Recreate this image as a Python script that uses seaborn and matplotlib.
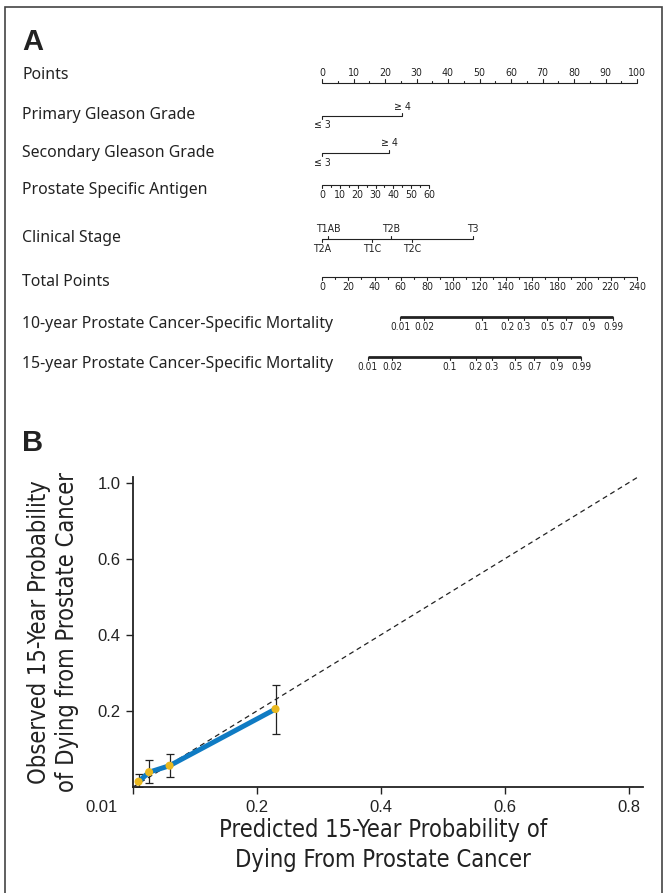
import numpy as np
import matplotlib
matplotlib.use("Agg")
import matplotlib.pyplot as plt
import matplotlib.transforms as mtransforms
from matplotlib import font_manager
from matplotlib.patches import Rectangle
import seaborn as sns

# ---------------- panel A: nomogram values (in "points", 0-100) ----------------
points_ticks = np.arange(0, 101, 10)
gleason_labels = ["≤ 3", "≥ 4"]
primary_points = [0, 25.5]
secondary_points = [0, 21.3]
psa_values = np.arange(0, 61, 10)
psa_points_at_60 = 34.0
stage_labels = ["T2A", "T1AB", "T1C", "T2B", "T2C", "T3"]
stage_points = [0, 2, 16, 22, 28.5, 48]
stage_above = [False, True, False, True, False, True]
total_ticks = np.arange(0, 241, 20)
total_max = 240
risk_ticks = [0.01, 0.02, 0.1, 0.2, 0.3, 0.5, 0.7, 0.9, 0.99]
risk_labels = ["0.01", "0.02", "0.1", "0.2", "0.3", "0.5", "0.7", "0.9", "0.99"]
risk10_total_at = [59.4, 221.7]   # total points where risk = 0.01 / 0.99
risk15_total_at = [35.0, 197.3]
row_names = ["Points", "Primary Gleason Grade", "Secondary Gleason Grade",
             "Prostate Specific Antigen", "Clinical Stage", "Total Points",
             "10-year Prostate Cancer-Specific Mortality",
             "15-year Prostate Cancer-Specific Mortality"]

# ---------------- panel B: calibration values ----------------
predicted = np.array([0.009, 0.026, 0.059, 0.230])
observed = np.array([0.014, 0.039, 0.056, 0.205])
observed_lo = np.array([0.0, 0.010, 0.026, 0.139])
observed_hi = np.array([0.034, 0.072, 0.086, 0.268])
x_tick_vals = [0.0, 0.2, 0.4, 0.6, 0.8]
x_tick_labels = ["0.01", "0.2", "0.4", "0.6", "0.8"]
y_tick_vals = [0.2, 0.4, 0.6, 0.8]
y_tick_labels = ["0.2", "0.4", "0.6", "1.0"]

BLUE = "#0f7bc3"
GOLD = "#e9b81f"
INK = "#222222"

sns.set_theme(style="ticks")
plt.rcParams["font.family"] = ["Liberation Sans", "DejaVu Sans"]

names = {f.name for f in font_manager.fontManager.ttflist}
if "Liberation Sans Narrow" in names:
    COND = dict(family="Liberation Sans Narrow")
elif "DejaVu Sans Condensed" in names:
    COND = dict(family="DejaVu Sans Condensed")
else:
    COND = dict(family="DejaVu Sans", stretch="condensed")
LABEL = dict(family=["Noto Sans", "DejaVu Sans"])

W, H = 663, 893
fig = plt.figure(figsize=(W / 100, H / 100), dpi=100)
fig.patches.append(Rectangle((5 / W, -0.01), 657 / W, 1.01 - 7 / H, transform=fig.transFigure,
                             fill=False, edgecolor="#444444", linewidth=1.2))

# ======================= panel A =======================
ax = fig.add_axes([322 / W, 1 - 380 / H, 315 / W, 320 / H])
ax.set_xlim(0, 100)
ax.set_ylim(380, 60)
ax.axis("off")

lab_tr = mtransforms.blended_transform_factory(fig.transFigure, ax.transData)
row_label_y = [75, 115, 153, 190, 238, 282, 324, 364]
for name, yy in zip(row_names, row_label_y):
    ax.text(22 / W, yy, name, transform=lab_tr, ha="left", va="center", fontsize=11.4,
            color=INK, **LABEL)
fig.text(22 / W, 1 - 50 / H, "A", fontsize=21, fontweight="bold", color=INK)


def scale_row(y, xs, labels, above, minor=None, lw=0.8, tick=4.0, fs=7.6):
    xs = np.asarray(xs, dtype=float)
    ax.plot([xs.min(), xs.max()], [y, y], color=INK, lw=lw, solid_capstyle="butt", clip_on=False)
    if np.isscalar(above):
        above = [above] * len(xs)
    for xv, lab, up in zip(xs, labels, above):
        d = -1 if up else 1
        ax.plot([xv, xv], [y, y + d * tick], color=INK, lw=0.8, clip_on=False)
        ax.text(xv, y + d * (tick + 1.5), lab, ha="center", va="bottom" if up else "top",
                fontsize=fs, color=INK, clip_on=False, **COND)
    if minor is not None:
        for xv in minor:
            d = -1 if above[0] else 1
            ax.plot([xv, xv], [y, y + d * tick * 0.5], color=INK, lw=0.8, clip_on=False)


# points
scale_row(83, points_ticks, [str(v) for v in points_ticks], True, minor=points_ticks[:-1] + 5)
# Gleason grades
scale_row(116, primary_points, gleason_labels, [False, True], tick=3)
scale_row(153, secondary_points, gleason_labels, [False, True], tick=3)
# PSA
psa_x = psa_values / psa_values.max() * psa_points_at_60
scale_row(185, psa_x, [str(v) for v in psa_values], False, minor=psa_x[:-1] + psa_x[1] / 2, tick=3)
# clinical stage
scale_row(239, stage_points, stage_labels, stage_above, tick=3)
# total points
tot_x = total_ticks / total_max * 100
scale_row(277, tot_x, [str(v) for v in total_ticks], False, minor=tot_x[:-1] + tot_x[1] / 2, tick=3)


def cloglog(p):
    return np.log(-np.log(1 - np.asarray(p)))


def risk_x(anchor):
    c = cloglog(risk_ticks)
    c0, c1 = cloglog([0.01, 0.99])
    tot = anchor[0] + (c - c0) / (c1 - c0) * (anchor[1] - anchor[0])
    return tot / total_max * 100


scale_row(317, risk_x(risk10_total_at), risk_labels, False, lw=2.0, tick=3, fs=7.2)
scale_row(357, risk_x(risk15_total_at), risk_labels, False, lw=2.0, tick=3, fs=7.2)

# ======================= panel B =======================
fig.text(22 / W, 1 - 451 / H, "B", fontsize=21, fontweight="bold", color=INK)
axb = fig.add_axes([133 / W, 1 - 787 / H, 510 / W, 310 / H])
axb.set_xlim(0, 0.823)
axb.set_ylim(0, 0.815)

axb.axline((0, 0), slope=1, color=INK, lw=0.9, ls=(0, (4, 3)), zorder=1)
axb.errorbar(predicted, observed, yerr=[observed - observed_lo, observed_hi - observed],
             fmt="none", ecolor=INK, elinewidth=0.9, capsize=3.2, capthick=0.9, zorder=2)
sns.lineplot(x=predicted, y=observed, ax=axb, color=BLUE, linewidth=3.6, zorder=3)
sns.scatterplot(x=predicted, y=observed, ax=axb, color=GOLD, s=34, edgecolor="none", zorder=4,
                clip_on=False)

sns.despine(ax=axb)
for sp in ("left", "bottom"):
    axb.spines[sp].set_linewidth(1.3)
    axb.spines[sp].set_color(INK)
axb.set_xticks(x_tick_vals, x_tick_labels)
axb.set_yticks(y_tick_vals, y_tick_labels)
axb.tick_params(axis="both", direction="out", length=5, width=1.0, color=INK,
                labelsize=12, labelcolor=INK, pad=4)
axb.get_xticklabels()[0].set_transform(
    axb.get_xticklabels()[0].get_transform()
    + mtransforms.ScaledTranslation(-0.31, 0, fig.dpi_scale_trans))

axb.set_xlabel("Predicted 15-Year Probability of\nDying From Prostate Cancer",
               fontsize=17, color=INK, linespacing=1.3, **COND)
axb.xaxis.set_label_coords(0.49, -0.1)
axb.set_ylabel("Observed 15-Year Probability\nof Dying from Prostate Cancer",
               fontsize=17, color=INK, linespacing=1.25, **COND)
axb.yaxis.set_label_coords(-0.105, 0.5)

fig.savefig("out.png", dpi=100)
